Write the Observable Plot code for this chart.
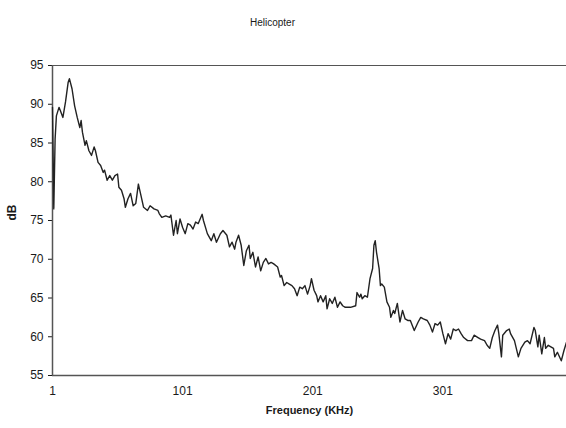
<!DOCTYPE html>
<html>
<head>
<meta charset="utf-8">
<script src="https://cdn.jsdelivr.net/npm/d3@7"></script>
<script src="https://cdn.jsdelivr.net/npm/@observablehq/plot@0.6"></script>
<style>
  html, body { margin: 0; padding: 0; background: #fff; }
  #chart { width: 566px; height: 428px; overflow: hidden; }
</style>
</head>
<body>
<div id="chart"></div>
<script>
const title = "Helicopter";
const xLabel = "Frequency (KHz)";
const yLabel = "dB";
const xTicks = [1, 101, 201, 301];
const yTicks = [55, 60, 65, 70, 75, 80, 85, 90, 95];

const freq = [
  1, 2, 3, 4, 6, 7, 9, 11, 13, 14, 16, 18, 20, 22, 23, 24, 26, 27, 29, 31,
  33, 34, 36, 38, 40, 41, 43, 45, 47, 49, 51, 52, 54, 56, 57, 59, 61, 63, 65, 67,
  69, 71, 74, 76, 79, 82, 83, 85, 88, 91, 92, 94, 96, 97, 99, 101, 103, 105, 107, 109,
  111, 113, 116, 117, 120, 123, 125, 127, 130, 132, 135, 137, 139, 141, 142, 144, 146, 148, 150, 152,
  153, 155, 157, 159, 161, 163, 165, 167, 169, 171, 174, 176, 177, 179, 181, 183, 185, 187, 189, 191,
  193, 195, 197, 199, 200, 202, 204, 205, 207, 209, 211, 212, 214, 216, 218, 220, 222, 224, 226, 230,
  234, 235, 237, 238, 239, 241, 243, 245, 247, 248, 249, 250, 252, 253, 254, 256, 258, 260, 261, 263,
  264, 266, 268, 270, 272, 274, 276, 279, 282, 284, 286, 289, 291, 293, 295, 297, 299, 301, 303, 305,
  307, 309, 311, 313, 315, 317, 320, 323, 325, 328, 330, 333, 335, 337, 339, 341, 343, 344, 346, 347,
  350, 352, 353, 356, 359, 361, 364, 366, 368, 371, 372, 374, 375, 377, 379, 380, 382, 384, 386, 387,
  389, 392, 394, 396
];
const dB = [
  89.6, 76.5, 85.5, 88.5, 89.6, 89.2, 88.3, 90.3, 92.8, 93.3, 92.0, 89.8, 88.3, 87.0, 87.9, 86.4, 84.7, 85.3, 84.0, 83.4,
  84.5, 84.0, 82.5, 82.1, 81.2, 81.5, 80.2, 80.8, 80.2, 80.8, 81.0, 79.3, 78.9, 77.8, 76.7, 77.8, 78.5, 76.9, 77.2, 79.7,
  78.2, 76.7, 76.3, 76.9, 76.5, 76.3, 75.9, 75.4, 75.6, 75.4, 75.7, 73.1, 75.0, 73.3, 75.2, 74.1, 73.3, 74.6, 74.4, 73.9,
  74.8, 74.6, 75.8, 75.0, 73.3, 72.4, 73.3, 72.2, 73.3, 73.7, 73.1, 71.6, 72.2, 71.3, 72.2, 73.1, 71.8, 69.2, 71.1, 71.8,
  70.1, 70.9, 69.0, 70.3, 68.5, 69.6, 70.1, 69.4, 69.6, 69.4, 69.0, 67.7, 67.9, 66.6, 67.0, 66.8, 66.6, 66.2, 65.3, 66.4,
  66.2, 66.6, 65.5, 66.6, 67.5, 66.0, 65.3, 64.5, 65.3, 64.5, 65.3, 63.6, 64.9, 64.3, 65.1, 63.8, 64.5, 64.0, 63.8, 63.8,
  64.0, 65.7, 65.1, 65.5, 64.9, 65.3, 65.1, 67.5, 68.8, 71.8, 72.4, 70.9, 68.8, 66.6, 66.8, 66.4, 64.5, 63.8, 62.5, 63.4,
  63.0, 64.3, 61.9, 63.4, 62.3, 62.1, 62.1, 60.8, 61.9, 62.5, 62.3, 62.1, 61.5, 60.6, 61.7, 61.5, 61.9, 60.4, 59.1, 60.4,
  59.7, 61.0, 60.8, 61.0, 60.4, 59.9, 59.5, 59.5, 60.2, 59.9, 59.7, 59.5, 58.9, 58.5, 59.9, 60.8, 61.5, 60.4, 57.4, 60.2,
  60.8, 61.0, 60.4, 59.5, 57.4, 58.5, 59.3, 59.5, 59.1, 61.2, 60.8, 58.7, 60.2, 57.8, 59.9, 58.5, 58.9, 58.7, 58.5, 57.4,
  58.0, 56.9, 58.2, 59.3
];

const data = freq.map((f, i) => ({f, v: dB[i]}));

const axisColor = "#555";
const textColor = "#1a1a1a";

const chart = Plot.plot({
  width: 566,
  height: 428,
  marginTop: 65,
  marginBottom: 53,
  marginLeft: 52,
  marginRight: 0,
  style: {fontFamily: "'Liberation Sans', Arial, sans-serif", fontSize: "12px", color: textColor, background: "#fff"},
  x: {domain: [1, 396], ticks: xTicks, tickSize: 0, tickPadding: 11, label: null, tickFormat: d => String(d)},
  y: {domain: [55, 95], ticks: yTicks, tickSize: 4, tickPadding: 5, label: null},
  marks: [
    Plot.ruleY([95], {stroke: axisColor, strokeWidth: 1.2}),
    Plot.ruleY([55], {stroke: axisColor, strokeWidth: 1.5}),
    Plot.ruleX([1], {stroke: axisColor, strokeWidth: 1.5}),
    Plot.line(data, {x: "f", y: "v", stroke: "#222", strokeWidth: 1.4}),
    Plot.text([title], {frameAnchor: "top-left", dx: 220, dy: -47, fontSize: 10, fill: textColor, textAnchor: "middle"}),
    Plot.text([yLabel], {frameAnchor: "left", dx: -40, rotate: -90, fontSize: 12, fontWeight: "bold", fill: textColor}),
    Plot.text([xLabel], {frameAnchor: "bottom", dy: 38, fontSize: 11, fontWeight: "bold", fill: textColor})
  ]
});
document.getElementById("chart").appendChild(chart);
</script>
</body>
</html>
